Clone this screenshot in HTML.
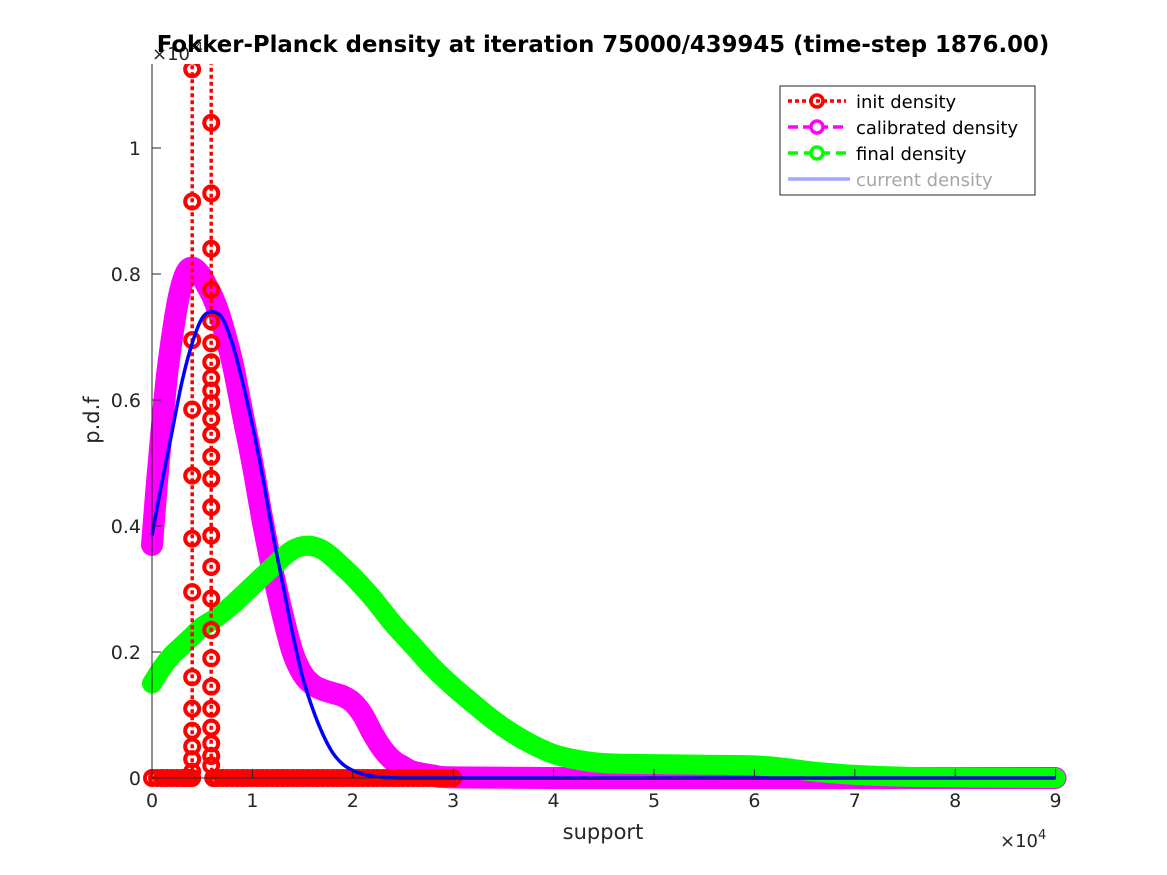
<!DOCTYPE html>
<html><head><meta charset="utf-8"><style>
body{margin:0;background:#fff;}
svg text{font-family:"DejaVu Sans","Liberation Sans",sans-serif;}
</style></head><body>
<svg id="chart" width="1167" height="875" xmlns="http://www.w3.org/2000/svg" style="position:absolute;left:0;top:0">
<defs><clipPath id="clip"><rect x="140" y="64" width="930" height="730"/></clipPath></defs>
<text x="152" y="60" font-size="18" fill="#262626">×10<tspan font-size="13" dy="-8">-4</tspan></text>
<g id="plot" clip-path="url(#clip)"></g>
<g id="axes"></g>
<text x="603" y="52" text-anchor="middle" font-size="22.8" font-weight="bold" fill="#000">Fokker-Planck density at iteration 75000/439945 (time-step 1876.00)</text>
<text x="1000" y="847" font-size="18" fill="#262626">×10<tspan font-size="13" dy="-8">4</tspan></text>
<text x="603" y="839" text-anchor="middle" font-size="21" fill="#262626">support</text>
<text transform="translate(99,420) rotate(-90)" text-anchor="middle" font-size="21" fill="#262626">p.d.f</text>
<g>
<rect x="780" y="86" width="255" height="109" fill="#fff" stroke="#262626" stroke-width="1"/>
<g>
<line x1="788" y1="101" x2="846" y2="101" stroke="#ff0000" stroke-width="3.5" stroke-dasharray="4 3"/>
<circle cx="817" cy="101" r="6" fill="none" stroke="#ff0000" stroke-width="3.5"/>
<text x="856" y="108" font-size="18" fill="#000">init density</text></g>
<g>
<line x1="788" y1="127" x2="846" y2="127" stroke="#ff00ff" stroke-width="3.5" stroke-dasharray="10 5"/>
<circle cx="817" cy="127" r="6" fill="#fff" stroke="#ff00ff" stroke-width="3.5"/>
<text x="856" y="134" font-size="18" fill="#000">calibrated density</text></g>
<g>
<line x1="788" y1="153" x2="846" y2="153" stroke="#00ff00" stroke-width="3.5" stroke-dasharray="10 6"/>
<circle cx="817" cy="153" r="6" fill="#fff" stroke="#00ff00" stroke-width="3.5"/>
<text x="856" y="160" font-size="18" fill="#000">final density</text></g>
<g>
<line x1="788" y1="179" x2="850" y2="179" stroke="#a6a6ff" stroke-width="3.5"/>
<text x="856" y="186" font-size="18" fill="#a6a6a6">current density</text></g>
</g>
</svg>
<script>
const xTicks=[0,1,2,3,4,5,6,7,8,9];
const yTicks=[0,0.2,0.4,0.6,0.8,1];
// values: x in support units, y in 1e-4
const initX=[0,500,1000,1500,2000,2500,3000,3300,3600,3800,4000,4000,4000,4000,4000,4000,4000,4000,4000,4000,4000,4000,4000,4000,4000,5900,5900,5900,5900,5900,5900,5900,5900,5900,5900,5900,5900,5900,5900,5900,5900,5900,5900,5900,5900,5900,5900,5900,5900,5900,5900,5900,6100,6500,7000,7500,8000,8500,9000,9500,10000,10500,11000,11500,12000,12500,13000,13500,14000,14500,15000,15500,16000,16500,17000,17500,18000,18500,19000,19500,20000,20500,21000,21500,22000,22500,23000,23500,24000,24500,25000,25500,26000,26500,27000,27500,28000,28500,29000,29500,30000];
const initY=[0,0,0,0,0,0,0,0,0,0,0,0.01,0.03,0.05,0.075,0.11,0.16,0.295,0.38,0.48,0.585,0.695,0.915,1.125,1.4,1.4,1.04,0.928,0.84,0.775,0.725,0.69,0.66,0.635,0.615,0.595,0.57,0.545,0.51,0.475,0.43,0.385,0.335,0.285,0.235,0.19,0.145,0.11,0.08,0.055,0.035,0.02,0,0,0,0,0,0,0,0,0,0,0,0,0,0,0,0,0,0,0,0,0,0,0,0,0,0,0,0,0,0,0,0,0,0,0,0,0,0,0,0,0,0,0,0,0,0,0,0,0,0];
const calX=[0,500,1000,1500,2000,2500,3000,3500,4000,4500,5000,5500,6000,6500,7000,8000,9000,10000,11000,12000,13000,14000,15000,16000,17000,18000,19000,20000,21000,22000,23000,24000,25000,26000,28000,30000,40000,60000,90000];
const calY=[0.37,0.47,0.56,0.64,0.70,0.75,0.785,0.805,0.81,0.805,0.795,0.78,0.765,0.745,0.72,0.66,0.58,0.50,0.41,0.33,0.26,0.20,0.165,0.148,0.14,0.135,0.13,0.12,0.10,0.07,0.045,0.028,0.018,0.01,0.004,0.001,0,0,0];
const finX=[0,1000,2000,3000,4000,5000,6000,7000,8000,9000,10000,11000,12000,13000,14000,15000,16000,17000,18000,19000,20000,22000,24000,26000,28000,30000,32000,34000,36000,38000,40000,42000,44000,46000,50000,55000,60000,63000,66000,70000,75000,80000,90000];
const finY=[0.15,0.175,0.195,0.21,0.225,0.24,0.25,0.262,0.275,0.29,0.305,0.32,0.335,0.35,0.362,0.368,0.368,0.362,0.35,0.335,0.32,0.285,0.245,0.21,0.175,0.145,0.118,0.092,0.07,0.052,0.038,0.03,0.025,0.023,0.022,0.021,0.02,0.016,0.01,0.005,0.002,0.001,0];
const curX=[0,1000,2000,3000,4000,5000,6000,7000,8000,9000,10000,11000,12000,13000,14000,15000,16000,17000,18000,19000,20000,21000,22000,23000,25000,30000,50000,90000];
const curY=[0.385,0.47,0.55,0.63,0.69,0.73,0.74,0.73,0.69,0.63,0.56,0.48,0.39,0.31,0.23,0.16,0.11,0.07,0.04,0.022,0.012,0.006,0.003,0.001,0,0,0,0];

const X0=152,XS=100.4/10000,Y0=778,YS=630;
const sx=v=>X0+v*XS, sy=v=>Y0-v*YS;
const NS="http://www.w3.org/2000/svg";
const plot=document.getElementById('plot'), axes=document.getElementById('axes');
function mk(tag,attrs,parent){const e=document.createElementNS(NS,tag);for(const k in attrs)e.setAttribute(k,attrs[k]);parent.appendChild(e);return e;}
function pts(xs,ys){return xs.map((x,i)=>sx(x).toFixed(1)+','+sy(ys[i]).toFixed(1)).join(' ');}
function smooth(xs,ys){
  const P=xs.map((x,i)=>[sx(x),sy(ys[i])]);
  let d='M'+P[0][0]+','+P[0][1];
  for(let i=0;i<P.length-1;i++){
    const p0=P[Math.max(0,i-1)],p1=P[i],p2=P[i+1],p3=P[Math.min(P.length-1,i+2)];
    const c1=[p1[0]+(p2[0]-p0[0])/6,p1[1]+(p2[1]-p0[1])/6];
    const c2=[p2[0]-(p3[0]-p1[0])/6,p2[1]-(p3[1]-p1[1])/6];
    d+=' C'+c1.join(',')+' '+c2.join(',')+' '+p2.join(',');
  }
  return d;
}

let e;
e=mk('path',{d:smooth(calX,calY),fill:'none',stroke:'#ff00ff','stroke-width':22,'stroke-linejoin':'round','stroke-linecap':'round'},plot);


e=mk('path',{d:smooth(finX,finY),fill:'none',stroke:'#00ff00','stroke-width':20,'stroke-linejoin':'round','stroke-linecap':'round'},plot);


e=mk('polyline',{points:pts(initX,initY),fill:'none',stroke:'#ff0000','stroke-width':3.5,'stroke-dasharray':'4 3'},plot);


initX.forEach((x,i)=>{
  const c=mk('circle',{cx:sx(x),cy:sy(initY[i]),r:7,fill:'none',stroke:'#ff0000','stroke-width':4},plot);
  
  
});
e=mk('path',{d:smooth(curX,curY),fill:'none',stroke:'#0000ff','stroke-width':3.5,'stroke-linejoin':'round'},plot);



e=mk('line',{x1:X0,y1:Y0,x2:1056,y2:Y0,stroke:'#262626','stroke-width':1},axes);


e=mk('line',{x1:X0,y1:64,x2:X0,y2:Y0,stroke:'#262626','stroke-width':1},axes);


xTicks.forEach(t=>{
  const x=sx(t*10000);
  const l=mk('line',{x1:x,y1:Y0,x2:x,y2:Y0-9,stroke:'#262626'},axes);
  
  
  const tx=mk('text',{x:x,y:Y0+29,'text-anchor':'middle','font-size':19,fill:'#262626'},axes);
  tx.textContent=t;
  
  
});
yTicks.forEach(t=>{
  const y=sy(t);
  const l=mk('line',{x1:X0,y1:y,x2:X0+9,y2:y,stroke:'#262626'},axes);
  
  
  const tx=mk('text',{x:X0-11,y:y+7,'text-anchor':'end','font-size':19,fill:'#262626'},axes);
  tx.textContent=t;
  
  
});
</script>
</body></html>
